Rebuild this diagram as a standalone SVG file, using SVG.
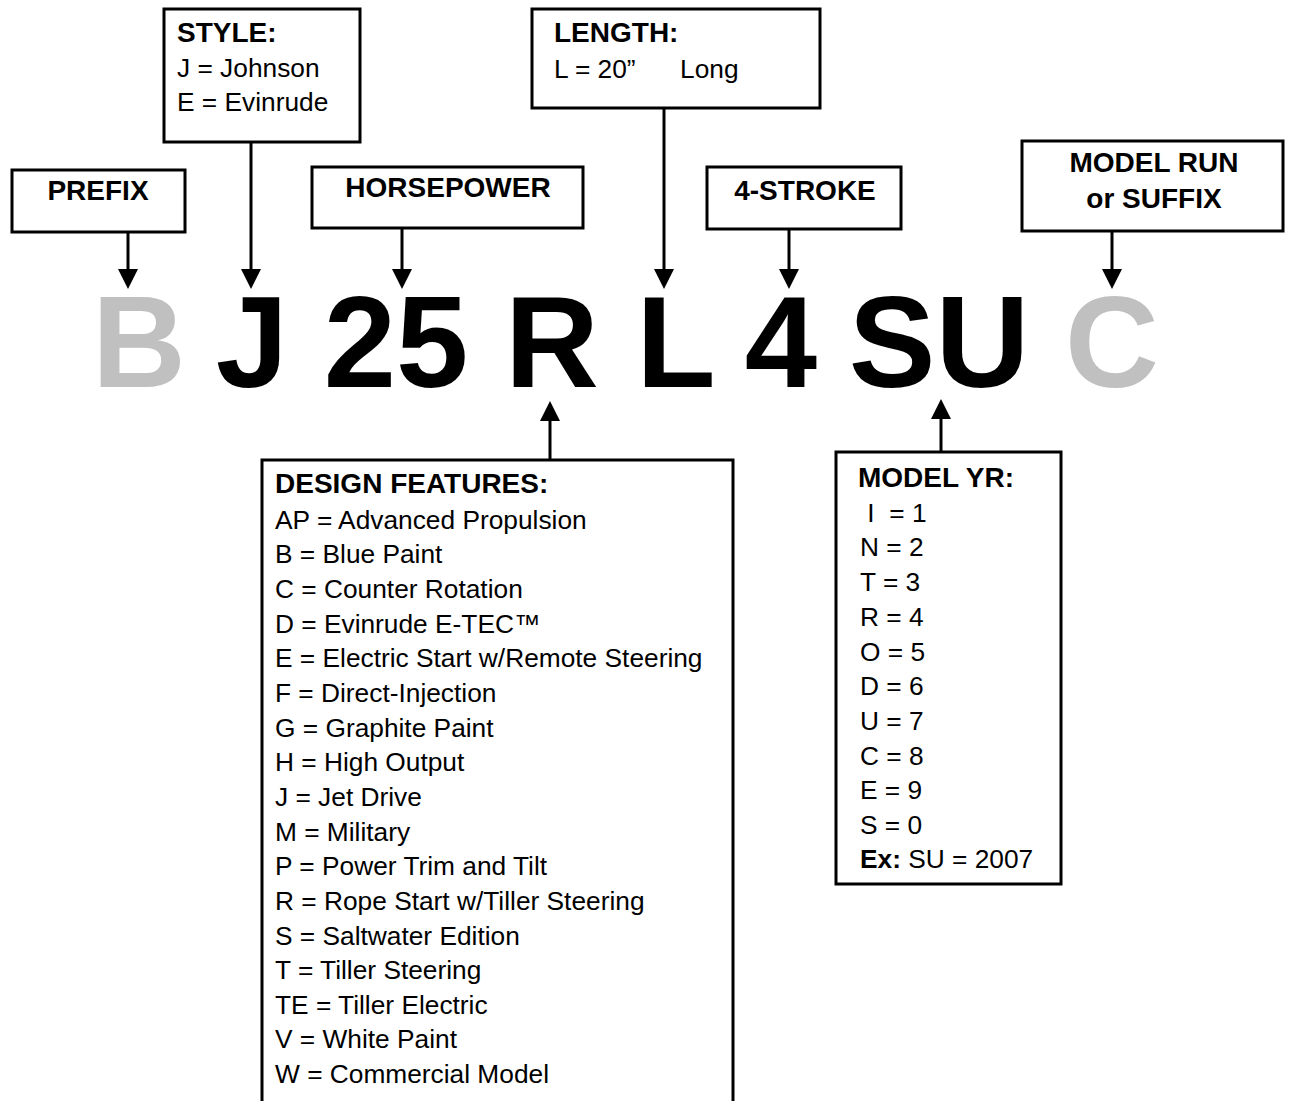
<svg xmlns="http://www.w3.org/2000/svg" width="1294" height="1101" viewBox="0 0 1294 1101">
<defs>
<style>
.box{fill:#fff;stroke:#000;stroke-width:3}
.b{font-family:"Liberation Sans",Arial,sans-serif;font-weight:bold;font-size:28px;fill:#000}
.r{font-family:"Liberation Sans",Arial,sans-serif;font-size:26.3px;fill:#000}
.big{font-family:"Liberation Sans",Arial,sans-serif;font-weight:bold;font-size:130px;text-anchor:middle}
.blk{fill:#000}
.gry{fill:#c0c0c0}
.c{text-anchor:middle}
.con line{stroke:#000;stroke-width:3}
</style>
<marker id="ah" viewBox="0 0 20 20" markerWidth="20" markerHeight="20" refX="0" refY="10" orient="auto" markerUnits="userSpaceOnUse">
<path d="M0,0 L20,10 L0,20 z" fill="#000"/>
</marker>
</defs>
<rect width="1294" height="1101" fill="#fff"/>

<g class="con">
<line x1="128" y1="232" x2="128" y2="269" marker-end="url(#ah)"/>
<line x1="251" y1="142" x2="251" y2="269" marker-end="url(#ah)"/>
<line x1="402" y1="228" x2="402" y2="269" marker-end="url(#ah)"/>
<line x1="664" y1="108" x2="664" y2="269" marker-end="url(#ah)"/>
<line x1="789" y1="229" x2="789" y2="269" marker-end="url(#ah)"/>
<line x1="1112" y1="231" x2="1112" y2="269" marker-end="url(#ah)"/>
<line x1="550" y1="460" x2="550" y2="421" marker-end="url(#ah)"/>
<line x1="941" y1="452" x2="941" y2="419" marker-end="url(#ah)"/>
</g>

<g id="prefix">
<rect class="box" x="12" y="170" width="173" height="62"/>
<text class="b c" x="98" y="200">PREFIX</text>
</g>
<g id="style">
<rect class="box" x="164" y="9" width="196" height="133"/>
<text class="b" x="177" y="42">STYLE:</text>
<text class="r" x="177" y="77">J = Johnson</text>
<text class="r" x="177" y="111">E = Evinrude</text>
</g>
<g id="horsepower">
<rect class="box" x="312" y="167" width="271" height="61"/>
<text class="b c" x="448" y="197">HORSEPOWER</text>
</g>
<g id="length">
<rect class="box" x="532" y="9" width="288" height="99"/>
<text class="b" x="554" y="42">LENGTH:</text>
<text class="r" x="554" y="78">L = 20”</text>
<text class="r" x="680" y="78">Long</text>
</g>
<g id="stroke">
<rect class="box" x="707" y="167" width="194" height="62"/>
<text class="b c" x="805" y="200">4-STROKE</text>
</g>
<g id="modelrun">
<rect class="box" x="1022" y="141" width="261" height="90"/>
<text class="b c" x="1154" y="172">MODEL RUN</text>
<text class="b c" x="1154" y="208">or SUFFIX</text>
</g>

<g id="code">
<text class="big gry" x="139" y="387">B</text>
<text class="big blk" x="252" y="387">J</text>
<text class="big blk" x="396" y="387">25</text>
<text class="big blk" x="552" y="387">R</text>
<text class="big blk" x="676" y="387">L</text>
<text class="big blk" x="781" y="387">4</text>
<text class="big blk" x="939" y="387">SU</text>
<text class="big gry" x="1112" y="387">C</text>
</g>

<g id="design">
<rect class="box" x="262" y="460" width="471" height="650"/>
<text class="b" x="275" y="493">DESIGN FEATURES:</text>
<text class="r" x="275" y="529">AP = Advanced Propulsion</text>
<text class="r" x="275" y="563">B = Blue Paint</text>
<text class="r" x="275" y="598">C = Counter Rotation</text>
<text class="r" x="275" y="633">D = Evinrude E-TEC™</text>
<text class="r" x="275" y="667">E = Electric Start w/Remote Steering</text>
<text class="r" x="275" y="702">F = Direct-Injection</text>
<text class="r" x="275" y="737">G = Graphite Paint</text>
<text class="r" x="275" y="771">H = High Output</text>
<text class="r" x="275" y="806">J = Jet Drive</text>
<text class="r" x="275" y="841">M = Military</text>
<text class="r" x="275" y="875">P = Power Trim and Tilt</text>
<text class="r" x="275" y="910">R = Rope Start w/Tiller Steering</text>
<text class="r" x="275" y="945">S = Saltwater Edition</text>
<text class="r" x="275" y="979">T = Tiller Steering</text>
<text class="r" x="275" y="1014">TE = Tiller Electric</text>
<text class="r" x="275" y="1048">V = White Paint</text>
<text class="r" x="275" y="1083">W = Commercial Model</text>
</g>

<g id="modelyr">
<rect class="box" x="836" y="452" width="225" height="432"/>
<text class="b" x="858" y="487">MODEL YR:</text>
<text class="r" x="860" y="522" xml:space="preserve"> I  = 1</text>
<text class="r" x="860" y="556">N = 2</text>
<text class="r" x="860" y="591">T  = 3</text>
<text class="r" x="860" y="626">R = 4</text>
<text class="r" x="860" y="661">O = 5</text>
<text class="r" x="860" y="695">D = 6</text>
<text class="r" x="860" y="730">U = 7</text>
<text class="r" x="860" y="765">C = 8</text>
<text class="r" x="860" y="799">E = 9</text>
<text class="r" x="860" y="834">S = 0</text>
<text class="r" x="860" y="868"><tspan font-weight="bold">Ex:</tspan> SU = 2007</text>
</g>
</svg>
